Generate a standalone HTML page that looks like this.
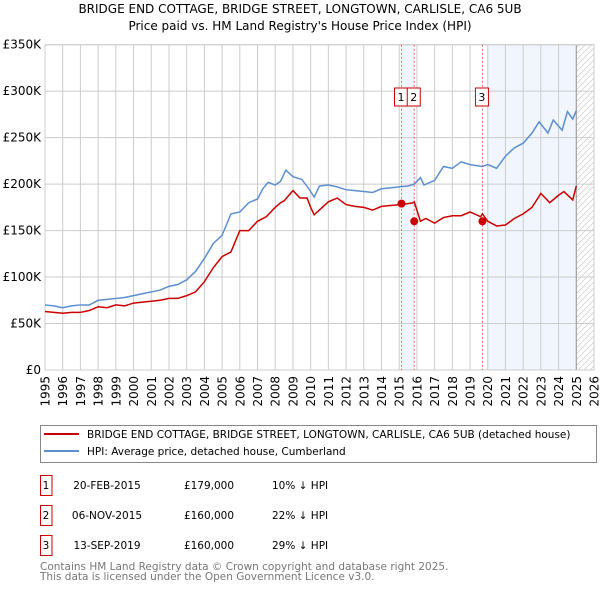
<!DOCTYPE html>
<html><head><meta charset="utf-8"><style>
body{margin:0;background:#fff;font-family:"Liberation Sans","DejaVu Sans",sans-serif;}
svg text{font-family:"DejaVu Sans","Liberation Sans",sans-serif;}
</style></head><body>
<svg id="chart" width="600" height="590" xmlns="http://www.w3.org/2000/svg">
<text x="300" y="13" text-anchor="middle" font-size="12">BRIDGE END COTTAGE, BRIDGE STREET, LONGTOWN, CARLISLE, CA6 5UB</text>
<text x="300" y="30" text-anchor="middle" font-size="12">Price paid vs. HM Land Registry's House Price Index (HPI)</text>
<g id="plot"></g>
<g>
<rect x="40.5" y="425.5" width="556" height="37" fill="#fff" stroke="#888"/>
<line x1="44" y1="434" x2="79" y2="434" stroke="#cc0000" stroke-width="2"/>
<text x="87" y="438" font-size="10.5">BRIDGE END COTTAGE, BRIDGE STREET, LONGTOWN, CARLISLE, CA6 5UB (detached house)</text>
<line x1="44" y1="451" x2="79" y2="451" stroke="#5b8fd0" stroke-width="2"/>
<text x="87" y="455" font-size="10.5">HPI: Average price, detached house, Cumberland</text>
</g>
<g id="table"></g>
<text x="40" y="570" font-size="10.5" fill="#777">Contains HM Land Registry data © Crown copyright and database right 2025.</text>
<text x="40" y="580" font-size="10.5" fill="#777">This data is licensed under the Open Government Licence v3.0.</text>
</svg>
<script>
const yTicks=[0,50,100,150,200,250,300,350];
const yTickLabels=["£0","£50K","£100K","£150K","£200K","£250K","£300K","£350K"];
const years=[1995,1996,1997,1998,1999,2000,2001,2002,2003,2004,2005,2006,2007,2008,2009,2010,2011,2012,2013,2014,2015,2016,2017,2018,2019,2020,2021,2022,2023,2024,2025,2026];
const hpiT=[1995,1995.5,1996,1996.5,1997,1997.5,1998,1998.5,1999,1999.5,2000,2000.5,2001,2001.5,2002,2002.5,2003,2003.5,2004,2004.5,2005,2005.5,2006,2006.5,2007,2007.3,2007.6,2008,2008.3,2008.6,2009,2009.5,2009.9,2010.2,2010.5,2011,2011.5,2012,2012.5,2013,2013.5,2014,2014.5,2015,2015.5,2015.85,2016.2,2016.4,2017,2017.5,2018,2018.5,2019,2019.7,2020,2020.5,2021,2021.5,2022,2022.5,2022.9,2023.4,2023.7,2024.2,2024.5,2024.8,2025];
const hpiV=[70,69,67,69,70,70,75,76,77,78,80,82,84,86,90,92,97,106,120,136,145,168,170,180,184,195,202,199,203,215,208,205,195,186,198,199,197,194,193,192,191,195,196,197,198,200,207,199,204,219,217,224,221,219,221,217,230,239,244,255,267,255,269,258,278,270,279];
const redT=[1995,1995.5,1996,1996.5,1997,1997.5,1998,1998.5,1999,1999.5,2000,2000.5,2001,2001.5,2002,2002.5,2003,2003.5,2004,2004.5,2005,2005.5,2006,2006.5,2007,2007.5,2008,2008.3,2008.5,2009,2009.4,2009.8,2010,2010.2,2011,2011.5,2012,2012.5,2013,2013.5,2014,2014.5,2015.13,2015.5,2015.8,2015.85,2016.2,2016.5,2017,2017.5,2018,2018.5,2019,2019.6,2019.7,2020,2020.5,2021,2021.5,2022,2022.5,2023,2023.5,2024,2024.3,2024.8,2025];
const redV=[63,62,61,62,62,64,68,67,70,69,72,73,74,75,77,77,80,84,95,110,122,127,150,150,160,165,175,180,182,193,185,185,175,167,181,185,178,176,175,172,176,177,178,179,180,181,160,163,158,164,166,166,170,165,168,160,155,156,163,168,175,190,180,188,192,183,198,199];
const saleT=[2015.13,2015.85,2019.7];
const saleV=[179,160,160];
const saleLabels=["1","2","3"];
const saleDates=["20-FEB-2015","06-NOV-2015","13-SEP-2019"];
const salePrices=["£179,000","£160,000","£160,000"];
const saleDiffs=["10% ↓ HPI","22% ↓ HPI","29% ↓ HPI"];
const NS="http://www.w3.org/2000/svg";
const X0=45,X1=594,Y0=370,Y1=44.7;
const xs=t=>X0+(t-1995)/(2026-1995)*(X1-X0);
const ys=v=>Y0-v/350*(Y0-Y1);
const plot=document.getElementById('plot');
function mk(tag,attrs,parent){const e=document.createElementNS(NS,tag);for(const k in attrs)e.setAttribute(k,attrs[k]);(parent||plot).appendChild(e);return e;}
let s1=mk('rect',{x:xs(saleT[0]),y:Y1,width:xs(saleT[1])-xs(saleT[0]),height:Y0-Y1,fill:'#f1f5fd'});


let s2=mk('rect',{x:xs(2020),y:Y1,width:xs(2025)-xs(2020),height:Y0-Y1,fill:'#f1f5fd'});


const defs=mk('defs',{});
const pat=mk('pattern',{id:'hatch',width:6,height:6,patternUnits:'userSpaceOnUse'},defs);
mk('path',{d:'M0,6 L6,0',stroke:'#ccc','stroke-width':0.7},pat);
let hz=mk('rect',{x:xs(2025),y:Y1,width:X1-xs(2025),height:Y0-Y1,fill:'url(#hatch)'});


years.forEach(y=>{mk('line',{x1:xs(y),x2:xs(y),y1:Y1,y2:Y0,stroke:'#ccc','stroke-width':1});
 const tx=xs(y)+4.5,ty=Y0+6;
 const t=mk('text',{x:tx,y:ty,'text-anchor':'end','font-size':12,transform:'rotate(-90 '+tx+' '+ty+')'});t.textContent=y;
 
 });
yTicks.forEach((v,i)=>{mk('line',{x1:X0,x2:X1,y1:ys(v),y2:ys(v),stroke:'#ccc','stroke-width':1});
 const t=mk('text',{x:X0-4,y:ys(v)+4,'text-anchor':'end','font-size':12});t.textContent=yTickLabels[i];
 
 });
mk('line',{x1:xs(2025),x2:xs(2025),y1:Y1,y2:Y0,stroke:'#999','stroke-width':1});
mk('rect',{x:X0,y:Y1,width:X1-X0,height:Y0-Y1,fill:'none',stroke:'#ccc'});
saleT.forEach(t=>mk('line',{x1:xs(t),x2:xs(t),y1:Y1,y2:Y0,stroke:'#e66','stroke-width':1,'stroke-dasharray':'2,2'}));
const hp=mk('polyline',{points:hpiT.map((t,i)=>xs(t)+','+ys(hpiV[i])).join(' '),fill:'none',stroke:'#5b8fd0','stroke-width':1.5});


const rp=mk('polyline',{points:redT.map((t,i)=>xs(t)+','+ys(redV[i])).join(' '),fill:'none',stroke:'#cc0000','stroke-width':1.5});


saleT.forEach((t,i)=>{const c=mk('circle',{cx:xs(t),cy:ys(saleV[i]),r:4,fill:'#cc0000'});
 
 });
const lx=[xs(saleT[0])-7,xs(saleT[1])-7,xs(saleT[2])-7];
saleT.forEach((t,i)=>{const g=mk('g',{});
 
 
 mk('rect',{x:lx[i],y:88,width:13,height:18,fill:'#fff',stroke:'#cc0000'},g);
 const tt=mk('text',{x:lx[i]+6.5,y:101,'text-anchor':'middle','font-size':11},g);tt.textContent=saleLabels[i];});
const tb=document.getElementById('table');
saleLabels.forEach((l,i)=>{const y=475+i*30;
 const g=mk('g',{},tb);
 
 
 mk('rect',{x:40.5,y:y+0.5,width:11.5,height:20,fill:'#fff',stroke:'#cc0000'},g);
 const cells=[[46,l,'middle'],[107,saleDates[i],'middle'],[209,salePrices[i],'middle'],[272,saleDiffs[i],'start']];
 cells.forEach(c=>{const t=mk('text',{x:c[0],y:y+14,'text-anchor':c[2],'font-size':10.5},g);t.textContent=c[1];});});
</script>
</body></html>
